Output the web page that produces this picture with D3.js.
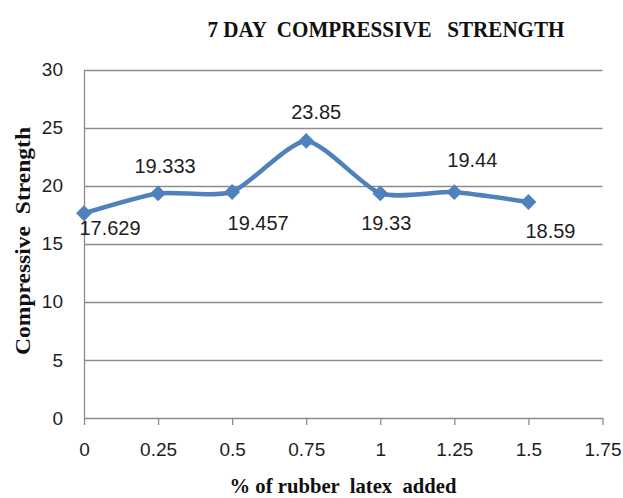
<!DOCTYPE html>
<html>
<head>
<meta charset="utf-8">
<script src="https://cdn.jsdelivr.net/npm/d3@7"></script>
<style>
  body { margin: 0; background: #fff; }
  svg { display: block; }
</style>
</head>
<body>
<svg id="chart" width="623" height="498"></svg>
<script>
// data
const latex = [0, 0.25, 0.5, 0.75, 1, 1.25, 1.5];
const strength = [17.629, 19.333, 19.457, 23.85, 19.33, 19.44, 18.59];
const labels = ["17.629", "19.333", "19.457", "23.85", "19.33", "19.44", "18.59"];
const xTicks = [0, 0.25, 0.5, 0.75, 1, 1.25, 1.5, 1.75];
const yTicks = [0, 5, 10, 15, 20, 25, 30];

// where each value label sits relative to its point [dx, dy of baseline]
const labelNudge = [[26, 22], [7, -20], [26, 38], [10, -22], [6, 37], [18, -25], [22, 36]];

const svg = d3.select("#chart");
const blue = "#4f81bd";
const grid = "#8c8c8c";
const sans = "Liberation Sans, Arial, sans-serif";
const serif = "Liberation Serif, Times New Roman, serif";

const x = d3.scaleLinear().domain([0, 1.75]).range([84, 602.5]);
const y = d3.scaleLinear().domain([0, 30]).range([418, 69.5]);

// gridlines
svg.append("g")
  .selectAll("line")
  .data(yTicks.filter(d => d > 0))
  .join("line")
  .attr("x1", x(0)).attr("x2", x(1.75))
  .attr("y1", d => Math.round(y(d)) + 0.5).attr("y2", d => Math.round(y(d)) + 0.5)
  .attr("stroke", grid).attr("stroke-width", 1.3);

// y axis
const yAxis = svg.append("g")
  .attr("transform", `translate(${x(0)},0)`)
  .call(d3.axisLeft(y).tickValues(yTicks).tickSize(0).tickPadding(21));
yAxis.select(".domain").attr("stroke", grid).attr("stroke-width", 1.3);
yAxis.selectAll("text")
  .attr("font-family", sans)
  .attr("font-size", 19).attr("fill", "#1e1e1e");

// x axis
const xAxis = svg.append("g")
  .attr("transform", `translate(0,${y(0)})`)
  .call(d3.axisBottom(x).tickValues(xTicks).tickFormat(d3.format(""))
    .tickSizeInner(7).tickSizeOuter(0).tickPadding(18));
xAxis.select(".domain").attr("stroke", grid).attr("stroke-width", 1.3);
xAxis.selectAll(".tick line").attr("stroke", grid).attr("stroke-width", 1.3);
xAxis.selectAll("text")
  .attr("font-family", sans)
  .attr("font-size", 19).attr("fill", "#1e1e1e");

// smoothed line
const pts = latex.map((d, i) => [x(d), y(strength[i])]);
svg.append("path")
  .datum(pts)
  .attr("fill", "none")
  .attr("stroke", blue)
  .attr("stroke-width", 4.5)
  .attr("stroke-linejoin", "round")
  .attr("d", d3.line().curve(d3.curveCardinal.tension(0.35)));

// diamond markers
svg.append("g")
  .selectAll("path")
  .data(pts)
  .join("path")
  .attr("transform", d => `translate(${d[0]},${d[1]})`)
  .attr("d", d3.symbol(d3.symbolDiamond2, 160))
  .attr("fill", blue);

// value labels
svg.append("g")
  .selectAll("text")
  .data(pts)
  .join("text")
  .attr("x", (d, i) => d[0] + labelNudge[i][0])
  .attr("y", (d, i) => d[1] + labelNudge[i][1])
  .attr("text-anchor", "middle")
  .attr("font-family", sans)
  .attr("font-size", 20)
  .attr("fill", "#1e1e1e")
  .text((d, i) => labels[i]);

// titles
svg.append("text")
  .attr("x", 386).attr("y", 37)
  .attr("text-anchor", "middle")
  .attr("font-family", serif)
  .attr("font-weight", "bold")
  .attr("font-size", 24)
  .attr("textLength", 357)
  .attr("lengthAdjust", "spacingAndGlyphs")
  .attr("fill", "#111")
  .style("white-space", "pre")
  .text("7 DAY  COMPRESSIVE   STRENGTH");

svg.append("text")
  .attr("x", 343).attr("y", 493)
  .attr("text-anchor", "middle")
  .attr("font-family", serif)
  .attr("font-weight", "bold")
  .attr("font-size", 22)
  .attr("textLength", 227)
  .attr("lengthAdjust", "spacingAndGlyphs")
  .attr("fill", "#111")
  .style("white-space", "pre")
  .text("% of rubber  latex  added");

svg.append("text")
  .attr("transform", "translate(30,241) rotate(-90)")
  .attr("text-anchor", "middle")
  .attr("font-family", serif)
  .attr("font-weight", "bold")
  .attr("font-size", 22)
  .attr("textLength", 228)
  .attr("lengthAdjust", "spacingAndGlyphs")
  .attr("fill", "#111")
  .style("white-space", "pre")
  .text("Compressive  Strength");
</script>
</body>
</html>
